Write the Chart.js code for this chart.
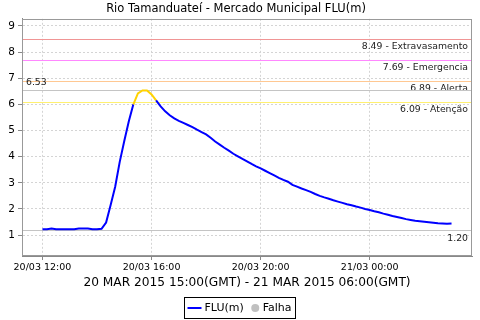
<!DOCTYPE html>
<html><head><meta charset="utf-8">
<script src="https://cdn.jsdelivr.net/npm/chart.js@4"></script>
<style>html,body{margin:0;padding:0;background:#fff;overflow:hidden}canvas{display:block}</style>
</head><body>
<canvas id="c" width="480" height="320"></canvas>
<script>
// ---- data ----
const chartTitle = 'Rio Tamanduateí - Mercado Municipal FLU(m)';
const xAxisTitle = '20 MAR 2015 15:00(GMT) - 21 MAR 2015 06:00(GMT)';
const seriesName = 'FLU(m)';
const failName = 'Falha';
const stepMinutes = 10; // one reading every 10 minutes from 20/03 12:00
const fluValues = [
  1.22, 1.22, 1.25, 1.22, 1.22, 1.22, 1.22, 1.22, 1.25, 1.25,
  1.25, 1.22, 1.22, 1.24, 1.48, 2.15, 2.85, 3.80, 4.60, 5.35,
  6.00, 6.42, 6.53, 6.53, 6.38, 6.15, 5.92, 5.73, 5.58, 5.46,
  5.37, 5.29, 5.21, 5.13, 5.03, 4.94, 4.85, 4.72, 4.58, 4.46,
  4.34, 4.23, 4.11, 4.01, 3.91, 3.82, 3.72, 3.63, 3.55, 3.46,
  3.37, 3.28, 3.19, 3.11, 3.04, 2.92, 2.85, 2.78, 2.72, 2.65,
  2.57, 2.50, 2.44, 2.39, 2.33, 2.28, 2.23, 2.18, 2.14, 2.09,
  2.05, 2.00, 1.96, 1.91, 1.87, 1.82, 1.78, 1.73, 1.69, 1.65,
  1.61, 1.58, 1.55, 1.53, 1.51, 1.49, 1.47, 1.45, 1.44, 1.43,
  1.44
];
const xTickMinutes = [0, 240, 480, 720];
const xTickLabels = ['20/03 12:00', '20/03 16:00', '20/03 20:00', '21/03 00:00'];
const yTickValues = [1, 2, 3, 4, 5, 6, 7, 8, 9];
const limitValues = [8.49, 7.69, 6.89, 6.09];
const limitNames = ['Extravasamento', 'Emergencia', 'Alerta', 'Atenção'];
const maxReading = 6.53;
const minReading = 1.20;

// ---- styles ----
const limitColors = ['#f09595', '#ff88ff', '#ffc892', '#fff070'];
const BLUE = '#0000ff', GOLD = '#ffd200', MARK = '#c4c4c4';
const FONT = '"DejaVu Sans", sans-serif';

const points = fluValues.map((v, i) => ({ x: i * stepMinutes, y: v }));

const refLines = {
  id: 'refLines',
  beforeDatasetsDraw(chart) {
    const { ctx, chartArea: a, scales: { y } } = chart;
    ctx.save();
    ctx.beginPath(); ctx.rect(a.left, a.top, a.width, a.height); ctx.clip();
    ctx.lineWidth = 1;
    ctx.font = '9.3px ' + FONT;
    ctx.textBaseline = 'middle';
    limitValues.forEach((v, i) => {
      const py = Math.round(y.getPixelForValue(v)) + 0.5;
      ctx.strokeStyle = limitColors[i];
      ctx.beginPath(); ctx.moveTo(a.left, py); ctx.lineTo(a.right, py); ctx.stroke();
      ctx.fillStyle = '#222';
      ctx.textAlign = 'right';
      ctx.fillText(v.toFixed(2) + ' - ' + limitNames[i], a.right - 4, py + 7.5);
    });
    // max and min markers
    [[maxReading, 'left', -7.5], [minReading, 'right', 8.5]].forEach(([v, al, dy]) => {
      const py = Math.round(y.getPixelForValue(v)) + 0.5;
      ctx.strokeStyle = MARK;
      ctx.beginPath(); ctx.moveTo(a.left, py); ctx.lineTo(a.right, py); ctx.stroke();
      ctx.fillStyle = '#222';
      ctx.textAlign = al;
      ctx.fillText(v.toFixed(2), al === 'left' ? a.left + 4 : a.right - 4, py + dy);
    });
    ctx.restore();
  },
  afterDraw(chart) {
    const { ctx, chartArea: a } = chart;
    ctx.save();
    ctx.strokeStyle = '#999';
    ctx.lineWidth = 1;
    ctx.strokeRect(Math.round(a.left) + 0.5, Math.round(a.top) + 0.5, Math.round(a.width) - 1, Math.round(a.height) - 1);
    // legend box
    ctx.font = '11px ' + FONT;
    const w1 = ctx.measureText(seriesName).width, w2 = ctx.measureText(failName).width;
    const total = 3 + 14 + 3 + w1 + 7 + 9 + 3 + w2 + 4;
    const x0 = Math.round(240 - total / 2) + 0.5, y0 = 297.5, h = 21;
    ctx.strokeStyle = '#000';
    ctx.strokeRect(x0, y0, Math.round(total), h);
    const cy = y0 + h / 2;
    let x = x0 + 3;
    ctx.strokeStyle = BLUE; ctx.lineWidth = 2;
    ctx.beginPath(); ctx.moveTo(x, cy); ctx.lineTo(x + 14, cy); ctx.stroke();
    x += 17;
    ctx.fillStyle = '#000'; ctx.textAlign = 'left'; ctx.textBaseline = 'middle';
    ctx.fillText(seriesName, x, cy);
    x += w1 + 7;
    ctx.fillStyle = '#c0c0c0';
    ctx.beginPath(); ctx.arc(x + 4.5, cy, 4, 0, Math.PI * 2); ctx.fill();
    x += 12;
    ctx.fillStyle = '#000';
    ctx.fillText(failName, x, cy);
    ctx.restore();
  }
};

new Chart(document.getElementById('c'), {
  type: 'line',
  data: {
    datasets: [{
      label: seriesName,
      data: points,
      borderColor: BLUE,
      borderWidth: 2,
      pointRadius: 0,
      tension: 0,
      fill: false,
      segment: { borderColor: c => (c.p1.parsed.y > limitValues[3] ? GOLD : BLUE) }
    }]
  },
  options: {
    responsive: false,
    animation: false,
    devicePixelRatio: 1,
    layout: { padding: { left: 0, right: 8, top: 0, bottom: 26 } },
    plugins: {
      legend: { display: false },
      tooltip: { enabled: false },
      title: {
        display: true, text: chartTitle, color: '#000',
        font: { family: FONT, size: 11.5, weight: 'normal' },
        padding: { top: 2, bottom: 3 }
      }
    },
    scales: {
      x: {
        type: 'linear', min: -45, max: 945,
        afterBuildTicks: s => { s.ticks = xTickMinutes.map(v => ({ value: v })); },
        afterFit: s => { s.height = 38; },
        ticks: {
          autoSkip: false, maxRotation: 0, padding: 2, color: '#000',
          font: { family: FONT, size: 9.5 },
          callback: (v) => xTickLabels[xTickMinutes.indexOf(v)]
        },
        grid: { color: '#d4d4d4', tickColor: '#888', tickLength: 4, tickBorderDash: [] },
        border: { display: true, color: '#888', dash: [2, 2] },
        title: {
          display: true, text: xAxisTitle, color: '#000',
          font: { family: FONT, size: 12.2 }, padding: { top: 0, bottom: 4 }
        }
      },
      y: {
        type: 'linear', min: 0.2, max: 9.27,
        afterBuildTicks: s => { s.ticks = yTickValues.map(v => ({ value: v })); },
        afterFit: s => { s.width = 22; },
        ticks: { padding: 3, color: '#000', font: { family: FONT, size: 10.5 } },
        grid: { color: '#d4d4d4', tickColor: '#888', tickLength: 4, tickBorderDash: [] },
        border: { display: true, color: '#888', dash: [2, 2] }
      }
    }
  },
  plugins: [refLines]
});
</script>
</body></html>
